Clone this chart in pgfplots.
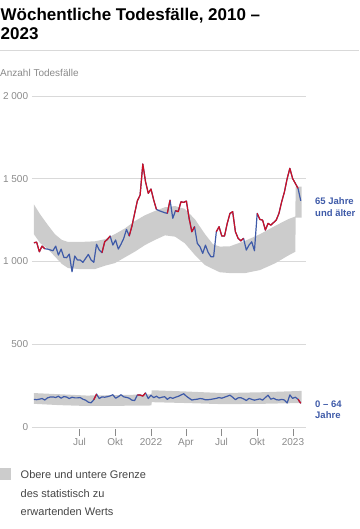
\documentclass[border=0pt]{standalone}
\usepackage{fontspec}
\setmainfont{Liberation Sans}
\usepackage{pgfplots}
\pgfplotsset{compat=1.18}
\usepgfplotslibrary{fillbetween}
\usepackage{pgfplotstable}
\definecolor{lblue}{HTML}{3E5AA8}
\definecolor{lred}{HTML}{CC1126}
\definecolor{bandc}{HTML}{CCCCCC}
\definecolor{gridc}{HTML}{D9D9D9}
\definecolor{tickc}{HTML}{8A8A8A}
\definecolor{legc}{HTML}{444444}

% weekly deaths, 65+ (v) and 0-64 (w); vr/wr = same value where outside expected band
\pgfplotstableread{
d v vr w wr
64 1113 1113 167 nan
71 1117 1117 165 nan
78 1059 1059 168 nan
85 1093 1093 172 nan
92 1077 1077 163 nan
99 1075 nan 176 nan
106 1070 nan 181 nan
113 1065 nan 182 nan
120 1093 nan 178 nan
127 1039 nan 186 nan
134 1075 nan 174 nan
141 1025 nan 184 nan
148 1023 nan 181 nan
155 1045 nan 172 nan
162 938 nan 180 nan
169 1033 nan 176 nan
176 1009 nan 176 nan
183 1009 nan 178 nan
190 995 nan 168 nan
197 1019 nan 162 nan
204 1043 nan 150 nan
211 1009 nan 146 nan
218 995 nan 165 165
225 1104 nan 199 199
232 1069 nan 172 nan
239 1053 1053 182 nan
246 1119 1119 180 nan
253 1134 1134 183 nan
260 1154 1154 188 nan
267 1099 nan 195 nan
274 1130 nan 174 nan
281 1075 nan 183 nan
288 1105 nan 195 nan
295 1140 nan 182 nan
302 1194 nan 179 nan
309 1154 1154 174 nan
316 1214 1214 162 nan
323 1291 1291 160 nan
330 1367 1367 193 193
337 1401 1401 193 193
344 1589 1589 187 187
351 1482 1482 206 206
358 1412 1412 172 nan
365 1438 1438 192 nan
372 1371 1371 177 nan
379 1315 1315 186 nan
386 1307 nan 175 nan
393 1301 nan 180 nan
400 1295 nan 183 nan
407 1291 1291 167 nan
414 1371 1371 179 nan
421 1261 nan 173 nan
428 1307 1307 180 nan
435 1301 1301 185 nan
442 1361 1361 193 nan
449 1357 1357 201 nan
456 1365 1365 186 nan
463 1261 1261 174 nan
470 1180 1180 163 nan
477 1210 1210 166 nan
484 1110 nan 168 nan
491 1089 nan 172 nan
498 1049 nan 170 nan
505 1099 nan 164 nan
512 1055 nan 165 nan
519 1029 nan 167 nan
526 1029 nan 170 nan
533 1180 1180 173 nan
540 1210 1210 178 nan
547 1154 1154 174 nan
554 1154 1154 180 nan
561 1230 1230 186 nan
568 1290 1290 192 nan
575 1301 1301 180 nan
582 1180 1180 165 nan
589 1140 1140 176 nan
596 1125 1125 177 nan
603 1140 1140 170 nan
610 1069 nan 160 nan
617 1099 nan 173 nan
624 1119 nan 167 nan
631 1065 nan 162 nan
638 1291 1291 166 nan
645 1254 1254 170 nan
652 1250 1250 162 nan
659 1190 1190 178 nan
666 1230 1230 192 nan
673 1220 1220 168 nan
680 1235 1235 174 nan
687 1250 1250 165 nan
694 1291 1291 163 nan
701 1361 1361 167 nan
708 1420 1420 163 nan
715 1500 1500 145 nan
722 1563 1563 194 nan
729 1502 1502 173 nan
736 1472 1472 180 nan
743 1442 1442 168 168
750 1367 nan 143 143
}\deaths

\pgfplotstableread{
d up lo
64 1345 1165
80 1285 1111
100 1220 1075
118 1165 1030
136 1130 985
152 1118 960
182 1118 954
221 1122 954
247 1135 975
272 1165 990
298 1200 1025
324 1245 1060
350 1280 1100
375 1305 1130
401 1328 1158
427 1335 1150
452 1318 1110
478 1255 1039
504 1165 978
524 1105 955
542 1090 935
568 1092 930
607 1125 930
645 1165 948
684 1215 989
717 1255 1035
736 1272 1059
737 1452 1265
752 1452 1265
}\bandold

\pgfplotstableread{
d up lo
64 205 140
130 198 132
200 190 127
280 193 128
366 197 130
367 222 150
450 215 145
550 205 138
650 210 140
752 218 145
}\bandyoung

\begin{document}
\begin{tikzpicture}

\begin{axis}[
  at={(0pt,0pt)}, anchor=south west,
  width=274pt, height=331pt, scale only axis,
  xmin=59.1, xmax=763.5, ymin=0, ymax=2000,
  axis line style={draw=none},
  ytick={0,500,1000,1500,2000},
  yticklabels={0,500,1~000,1~500,2~000},
  ymajorgrids, grid style={gridc, line width=0.8pt},
  ytick style={draw=none},
  yticklabel style={font=\fontsize{10}{12}\selectfont, text=tickc, anchor=east, inner sep=0pt, xshift=3.3pt},
  xtick={181,273,365,455,546,638,730},
  xticklabels={Jul,Okt,2022,Apr,Jul,Okt,2023},
  xtick pos=bottom, tick align=outside,
  major tick length=7pt,
  xtick style={draw=tickc, line width=0.6pt, yshift=-2pt},
  xticklabel style={font=\fontsize{10}{12}\selectfont, text=tickc, yshift=-1pt},
  unbounded coords=jump,
]
\addplot[draw=none, name path=ou] table[x=d, y=up] {\bandold};
\addplot[draw=none, name path=ol] table[x=d, y=lo] {\bandold};
\addplot[bandc, draw=none] fill between[of=ou and ol];
\addplot[draw=none, name path=yu] table[x=d, y=up] {\bandyoung};
\addplot[draw=none, name path=yl] table[x=d, y=lo] {\bandyoung};
\addplot[bandc, draw=none] fill between[of=yu and yl];

\addplot[lblue, line width=1.2pt, line join=round] table[x=d, y=v] {\deaths};
\addplot[lred, line width=1.2pt, line join=round] table[x=d, y=vr] {\deaths};
\addplot[lblue, line width=1.2pt, line join=round] table[x=d, y=w] {\deaths};
\addplot[lred, line width=1.2pt, line join=round] table[x=d, y=wr] {\deaths};
\end{axis}

\node[anchor=base west, inner sep=0pt, font=\fontsize{17}{20}\selectfont\bfseries] at (-31.5pt,406.3pt) {Wöchentliche Todesfälle, 2010 –};
\node[anchor=base west, inner sep=0pt, font=\fontsize{17}{20}\selectfont\bfseries] at (-31.5pt,387.7pt) {2023};
\draw[gridc, line width=1pt] (-32pt,376.5pt) -- (327pt,376.5pt);
\node[anchor=base west, inner sep=0pt, font=\fontsize{10}{12}\selectfont, text=tickc] at (-32pt,350pt) {Anzahl Todesfälle};

\node[anchor=base west, inner sep=0pt, font=\fontsize{9.5}{11}\selectfont\bfseries, text=lblue] at (283pt,222pt) {65 Jahre};
\node[anchor=base west, inner sep=0pt, font=\fontsize{9.5}{11}\selectfont\bfseries, text=lblue] at (283pt,210.5pt) {und älter};
\node[anchor=base west, inner sep=0pt, font=\fontsize{9.5}{11}\selectfont\bfseries, text=lblue] at (283pt,19.5pt) {0 – 64};
\node[anchor=base west, inner sep=0pt, font=\fontsize{9.5}{11}\selectfont\bfseries, text=lblue] at (283pt,8pt) {Jahre};

\fill[bandc] (-32pt,-41pt) rectangle (-21pt,-53pt);
\node[anchor=base west, inner sep=0pt, font=\fontsize{11}{13}\selectfont, text=legc] at (-11.5pt,-51.5pt) {Obere und untere Grenze};
\node[anchor=base west, inner sep=0pt, font=\fontsize{11}{13}\selectfont, text=legc] at (-11.5pt,-70pt) {des statistisch zu};
\node[anchor=base west, inner sep=0pt, font=\fontsize{11}{13}\selectfont, text=legc] at (-11.5pt,-88.5pt) {erwartenden Werts};

\pgfresetboundingbox
\path[use as bounding box] (-32pt,427pt) rectangle (327pt,-102pt);
\end{tikzpicture}
\end{document}
